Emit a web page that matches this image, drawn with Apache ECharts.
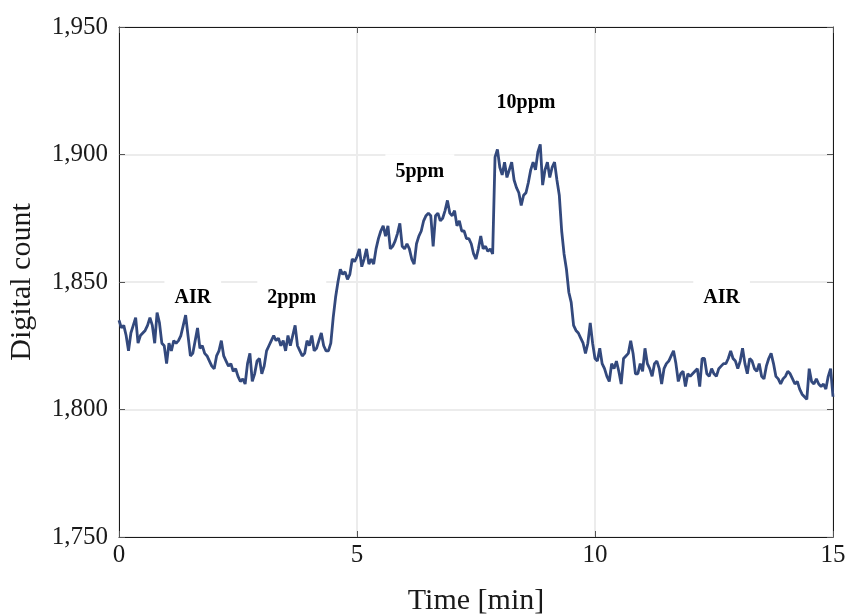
<!DOCTYPE html>
<html>
<head>
<meta charset="utf-8">
<title>Sensor response</title>
<script src="https://cdn.jsdelivr.net/npm/echarts@6/dist/echarts.min.js"></script>
<style>
  html, body { margin: 0; padding: 0; background: #fff; }
  #chart { width: 848px; height: 615px; }
</style>
</head>
<body>
<div id="chart"></div>
<script>
// Sampling interval of the sensor log, in minutes
const stepMin = 0.05;

// Digital count per phase, one value per sample
const airStart = [
  1835, 1832, 1833, 1829, 1823, 1830, 1833, 1836, 1826, 1829,
  1830, 1831, 1833, 1836, 1833, 1826, 1838, 1834, 1826, 1825,
  1818, 1826, 1823, 1827, 1826, 1827, 1829, 1833, 1837, 1829,
  1821, 1822, 1827, 1832, 1824, 1825, 1822, 1821, 1819, 1817,
  1816, 1821, 1823, 1827, 1821, 1819, 1817, 1818, 1815, 1816,
  1813, 1811, 1812, 1810, 1818, 1822, 1811, 1814, 1819, 1820
];
const ppm2 = [
  1814, 1817, 1823, 1825, 1827, 1829, 1827, 1828, 1825, 1827,
  1823, 1829, 1825, 1829, 1833, 1825, 1823, 1821, 1822, 1827,
  1825, 1829, 1823, 1824, 1827, 1830, 1825, 1823, 1823, 1826
];
const ppm5 = [
  1836, 1844, 1850, 1855, 1853, 1854, 1851, 1853, 1859, 1858,
  1860, 1863, 1856, 1859, 1863, 1857, 1859, 1857, 1863, 1867,
  1870, 1872, 1868, 1872, 1863, 1864, 1866, 1869, 1873, 1864,
  1863, 1865, 1863, 1859, 1857, 1865, 1868, 1870, 1874, 1876,
  1877, 1876, 1864, 1876, 1877, 1874, 1875, 1878, 1882, 1877,
  1876, 1878, 1872, 1874, 1870, 1870, 1867, 1867, 1865, 1861,
  1859, 1863, 1868, 1863, 1864, 1862, 1863, 1861
];
const ppm10 = [
  1899, 1902, 1895, 1892, 1897, 1891, 1894, 1897, 1890, 1887,
  1885, 1880, 1884, 1885, 1889, 1894, 1897, 1894, 1901, 1904,
  1888, 1894, 1897, 1891, 1895, 1897, 1890
];
const airEnd = [
  1884, 1870, 1861, 1855, 1846, 1842, 1833, 1831, 1830, 1828,
  1826, 1822, 1826, 1834, 1826, 1820, 1819, 1824, 1818, 1816,
  1813, 1811, 1818, 1816, 1819, 1815, 1810, 1820, 1821, 1822,
  1827, 1822, 1814, 1814, 1818, 1815, 1824, 1818, 1816, 1813,
  1818, 1819, 1816, 1810, 1816, 1818, 1819, 1821, 1823, 1818,
  1811, 1814, 1815, 1809, 1814, 1813, 1814, 1815, 1816, 1809,
  1820, 1820, 1814, 1813, 1816, 1814, 1813, 1816, 1817, 1818,
  1818, 1820, 1823, 1820, 1819, 1816, 1819, 1824, 1818, 1814,
  1820, 1819, 1816, 1815, 1818, 1813, 1812, 1817, 1820, 1822,
  1818, 1813, 1812, 1810, 1812, 1813, 1815, 1814, 1812, 1810,
  1811, 1808, 1806, 1805, 1804, 1816, 1811, 1810, 1812, 1810,
  1809, 1810, 1808, 1813, 1816, 1805
];

// Phase annotations
const phaseNames = ['AIR', '2ppm', '5ppm', '10ppm', 'AIR'];
const phaseTimes = [1.55, 3.63, 6.32, 8.55, 12.66];
const phaseCounts = [1843.7, 1843.7, 1893.4, 1920.1, 1843.7];

// Axis ranges and ticks
const xMin = 0, xMax = 15, xStep = 5;
const yMin = 1750, yMax = 1950, yStep = 50;

// Join the phases into one time series
const series = [];
[airStart, ppm2, ppm5, ppm10, airEnd].forEach(seg => {
  seg.forEach(v => {
    const t = Math.round(series.length * stepMin * 1000) / 1000;
    series.push([t, v]);
  });
});

const serif = '"Liberation Serif", "DejaVu Serif", serif';
const frameColor = '#1a1a1a';
const tickColor = '#555';
const gridColor = '#ececec';
const textColor = '#1a1a1a';

const chart = echarts.init(document.getElementById('chart'), null, { renderer: 'canvas' });

const axisCommon = {
  type: 'value',
  axisLine: { show: true, onZero: false, lineStyle: { color: frameColor, width: 1 } },
  axisTick: { show: true, inside: true, length: 6, lineStyle: { color: tickColor, width: 1 } }
};

chart.setOption({
  animation: false,
  backgroundColor: '#fff',
  grid: {
    left: 119, right: 15, top: 27, bottom: 78,
    containLabel: false,
    outerBoundsMode: 'none'
  },
  xAxis: [
    Object.assign({}, axisCommon, {
      position: 'bottom',
      min: xMin, max: xMax, interval: xStep,
      name: 'Time [min]',
      nameLocation: 'middle',
      nameGap: 49,
      nameTextStyle: { fontFamily: serif, fontSize: 30, color: textColor },
      axisLabel: { fontFamily: serif, fontSize: 25, color: textColor, margin: 6 },
      splitLine: { show: true, lineStyle: { color: gridColor, width: 2 } }
    }),
    Object.assign({}, axisCommon, {
      position: 'top',
      min: xMin, max: xMax, interval: xStep,
      axisLabel: { show: false },
      splitLine: { show: false }
    })
  ],
  yAxis: [
    Object.assign({}, axisCommon, {
      position: 'left',
      min: yMin, max: yMax, interval: yStep,
      name: 'Digital count',
      nameLocation: 'middle',
      nameGap: 82,
      nameRotate: 90,
      nameTextStyle: { fontFamily: serif, fontSize: 30, color: textColor },
      axisLabel: {
        fontFamily: serif, fontSize: 25, color: textColor, margin: 11,
        formatter: v => v.toLocaleString('en-US')
      },
      splitLine: { show: true, lineStyle: { color: gridColor, width: 2 } }
    }),
    Object.assign({}, axisCommon, {
      position: 'right',
      min: yMin, max: yMax, interval: yStep,
      axisLabel: { show: false },
      splitLine: { show: false }
    })
  ],
  series: [
    {
      name: 'phases',
      type: 'scatter',
      z: 1,
      symbolSize: 1,
      itemStyle: { color: '#fff', opacity: 1 },
      silent: true,
      data: phaseTimes.map((t, i) => ({ value: [t, phaseCounts[i]], name: phaseNames[i] })),
      label: {
        show: true,
        position: 'inside',
        formatter: p => p.name,
        fontFamily: serif,
        fontWeight: 'bold',
        fontSize: 20,
        color: '#000',
        opacity: 1,
        backgroundColor: '#fff',
        padding: [7, 10]
      }
    },
    {
      name: 'Digital count',
      type: 'line',
      z: 3,
      showSymbol: false,
      symbol: 'none',
      data: series,
      lineStyle: { color: '#33497d', width: 2.8 }
    }
  ]
});
</script>
</body>
</html>
